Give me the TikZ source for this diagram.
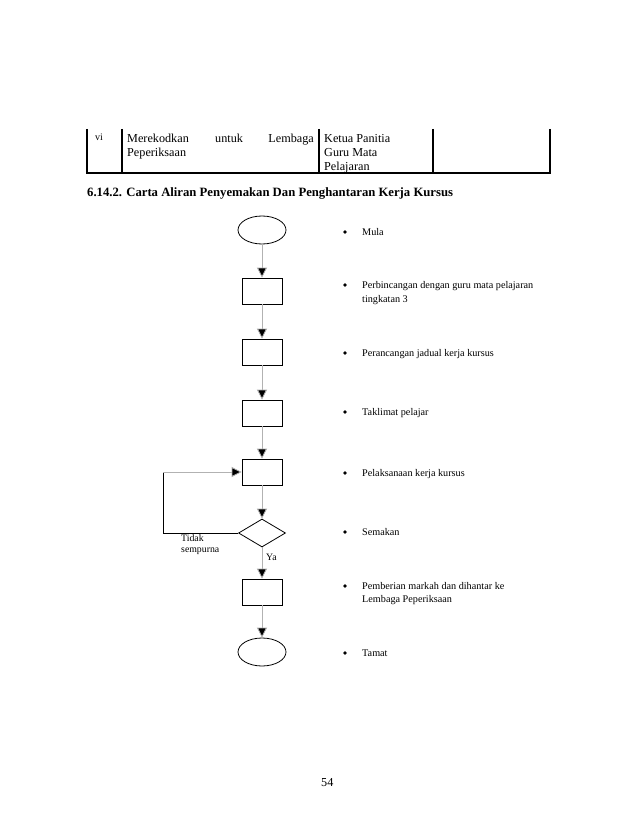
\documentclass[tikz,border=0pt]{standalone}
\usepackage{fontspec}
\setmainfont{Liberation Serif}
\usetikzlibrary{arrows.meta,shapes.geometric}
\begin{document}
\begin{tikzpicture}[x=1pt,y=-1pt,
  tbl/.style={line width=1.4pt,black},
  ttext/.style={anchor=base west,inner sep=0pt,font=\fontsize{12.2}{14}\selectfont},
  stepbox/.style={draw,line width=0.8pt,minimum width=40pt,minimum height=26pt,inner sep=0pt},
  term/.style={draw,ellipse,line width=0.8pt,minimum width=48pt,minimum height=28pt,inner sep=0pt},
  decide/.style={draw,diamond,aspect=1.68,line width=0.8pt,minimum width=47pt,minimum height=28pt,inner sep=0pt},
  flow/.style={draw=black!30,line width=0.8pt,-{Triangle[length=10pt,width=10pt,fill=black]}},
  btext/.style={anchor=base west,inner sep=0pt,font=\fontsize{10.2}{14}\selectfont},
  bul/.style={circle,fill=black,inner sep=0pt,minimum size=3.6pt},
  small/.style={anchor=base west,inner sep=0pt,font=\fontsize{9.8}{11}\selectfont}
]
\useasboundingbox (0,0) rectangle (638,826);
\fill[white] (0,0) rectangle (638,826);

% table fragment
\draw[tbl] (87,129) -- (87,173);
\draw[tbl] (122,129) -- (122,173);
\draw[tbl] (319,129) -- (319,173);
\draw[tbl] (433,129) -- (433,173);
\draw[tbl] (550,129) -- (550,173);
\draw[tbl] (86.3,173) -- (550.7,173);
\node[ttext,font=\fontsize{10}{12}\selectfont] (vi) at (95,141) {vi};
\node[ttext] (m1) at (127,143) {Merekodkan};
\node[ttext] (m2) at (215,143) {untuk};
\node[ttext,anchor=base east] (m3) at (314,143) {Lembaga};
\node[ttext] (m4) at (127,157) {Peperiksaan};
\node[ttext] (k1) at (324,143) {Ketua Panitia};
\node[ttext] (k2) at (324,157) {Guru Mata};
\node[ttext] (k3) at (324,171) {Pelajaran};

% heading
\node[ttext,font=\bfseries\fontsize{12.7}{14}\selectfont] (head) at (87,197) {6.14.2. Carta Aliran Penyemakan Dan Penghantaran Kerja Kursus};

% flowchart
\node[term] (start) at (262,230) {};
\node[stepbox] (s1) at (262,291) {};
\node[stepbox] (s2) at (262,352) {};
\node[stepbox] (s3) at (262,413) {};
\node[stepbox] (s4) at (262,472) {};
\node[decide] (d) at (262,533) {};
\node[stepbox] (s5) at (262,592) {};
\node[term] (end) at (262,652) {};

\draw[flow] (start) -- (s1);
\draw[flow] (s1) -- (s2);
\draw[flow] (s2) -- (s3);
\draw[flow] (s3) -- (s4);
\draw[flow] (s4) -- (d);
\draw[flow] (d) -- (s5);
\draw[flow] (s5) -- (end);

\coordinate (c1) at (163,533);
\coordinate (c2) at (163,472);
\draw[line width=0.8pt,black] (d.west) -- (c1) -- (c2);
\draw[flow] (c2) -- (s4.west);

\node[small] (tidak) at (181,541) {Tidak};
\node[small] (semp) at (181,552.5) {sempurna};
\node[small] (ya) at (266,560) {Ya};

% bullet list
\foreach \y/\n in {232/b1,285/b2,353/b3,412/b4,473/b5,532/b6,586/b7,653/b8}{
  \node[bul] (\n) at (345,\y) {};
}
\node[btext] (t1) at (362,235.5) {Mula};
\node[btext] (t2) at (362,288.5) {Perbincangan dengan guru mata pelajaran};
\node[btext] (t2b) at (362,302.5) {tingkatan 3};
\node[btext] (t3) at (362,356.5) {Perancangan jadual kerja kursus};
\node[btext] (t4) at (362,415.5) {Taklimat pelajar};
\node[btext] (t5) at (362,476.5) {Pelaksanaan kerja kursus};
\node[btext] (t6) at (362,535.5) {Semakan};
\node[btext] (t7) at (362,589.5) {Pemberian markah dan dihantar ke};
\node[btext] (t7b) at (362,602.5) {Lembaga Peperiksaan};
\node[btext] (t8) at (362,656.5) {Tamat};

% page number
\node[ttext] (pg) at (321,786) {54};
\end{tikzpicture}
\end{document}
